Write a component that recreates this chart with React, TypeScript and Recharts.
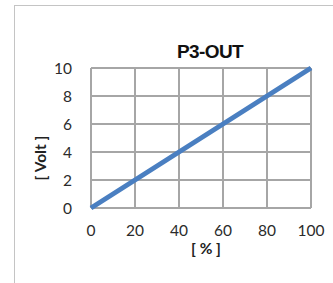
import { LineChart, Line, CartesianGrid, XAxis, YAxis } from 'recharts';

const percent = [0, 20, 40, 60, 80, 100];
const volts = [0, 2, 4, 6, 8, 10];
const xTicks = [0, 20, 40, 60, 80, 100];
const yTicks = [0, 2, 4, 6, 8, 10];

const data = percent.map((p, i) => ({ p, v: volts[i] }));

const tickFont = { fill: '#2b2b2b', fontSize: 15.5, fontFamily: 'Lato, "Open Sans", sans-serif' };

const App = () => {
  return (
    <div style={{ position: 'fixed', left: 0, top: 0, width: 333, height: 283, overflow: 'hidden', background: '#fff' }}>
      <div
        style={{
          position: 'absolute',
          left: 14,
          top: 5,
          width: 340,
          height: 300,
          borderTop: '1px solid #c4c4c4',
          borderLeft: '1px solid #c4c4c4',
        }}
      />
      <div
        style={{
          position: 'absolute',
          left: 0,
          width: 420,
          top: 41,
          textAlign: 'center',
          fontFamily: '"Liberation Sans Narrow", "Arial Narrow", sans-serif',
          fontWeight: 'bold',
          fontSize: 19,
          color: '#111',
          letterSpacing: -0.6,
        }}
      >
        P3-OUT
      </div>
      <div style={{ position: 'absolute', left: 0, top: 0 }}>
        <LineChart width={333} height={283} data={data} margin={{ top: 68, right: 22, left: 0, bottom: 0 }}>
          <CartesianGrid stroke='#a6a6a6' strokeWidth={2} horizontalValues={yTicks} verticalValues={xTicks} />
          <XAxis
            dataKey='p'
            type='number'
            domain={[0, 100]}
            ticks={xTicks}
            height={75}
            tickSize={0}
            tickMargin={17}
            axisLine={false}
            tick={tickFont}
            label={{
              content: ({ viewBox }: any) => (
                <text
                  x={viewBox.x + viewBox.width / 2 + 5}
                  y={viewBox.y + 46}
                  textAnchor='middle'
                  fontFamily='Lato, "Open Sans", sans-serif'
                  fontWeight='bold'
                  fontSize={15.5}
                  fill='#222'
                >
                  [ % ]
                </text>
              ),
            }}
          />
          <YAxis
            type='number'
            domain={[0, 10]}
            ticks={yTicks}
            width={91}
            tickSize={0}
            tickMargin={19}
            axisLine={false}
            tick={tickFont}
            label={{
              content: ({ viewBox }: any) => {
                const x = 46;
                const y = viewBox.y + viewBox.height / 2 + 20;
                return (
                  <text
                    x={x}
                    y={y}
                    transform={`rotate(-90, ${x}, ${y})`}
                    textAnchor='middle'
                    fontFamily='Lato, "Open Sans", sans-serif'
                    fontWeight='bold'
                    fontSize={15.5}
                    fill='#222'
                  >
                    [ Volt ]
                  </text>
                );
              },
            }}
          />
          <Line
            type='linear'
            dataKey='v'
            stroke='#4a7fc1'
            strokeWidth={5}
            dot={false}
            isAnimationActive={false}
          />
        </LineChart>
      </div>
    </div>
  );
};

export default App;
